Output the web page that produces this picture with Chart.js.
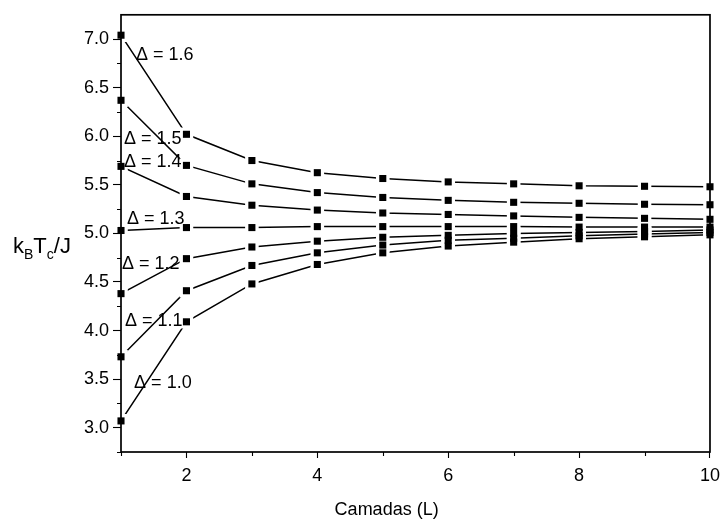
<!DOCTYPE html>
<html>
<head>
<meta charset="utf-8">
<script src="https://cdn.jsdelivr.net/npm/chart.js@4.4.1/dist/chart.umd.min.js"></script>
<style>
  html, body { margin: 0; padding: 0; background: #fff; }
  #c { display: block; }
</style>
</head>
<body>
<canvas id="c" width="727" height="525"></canvas>
<script>
// Number of layers L
const layers = [1, 2, 3, 4, 5, 6, 7, 8, 9, 10];

// Critical temperature k_B T_c / J for each anisotropy value Δ
const delta16 = [7.04, 6.02, 5.75, 5.625, 5.565, 5.53, 5.51, 5.49, 5.485, 5.48];
const delta15 = [6.37, 5.70, 5.51, 5.42, 5.37, 5.34, 5.32, 5.31, 5.30, 5.295];
const delta14 = [5.69, 5.38, 5.29, 5.24, 5.21, 5.195, 5.18, 5.165, 5.155, 5.145];
const delta13 = [5.03, 5.06, 5.06, 5.07, 5.07, 5.07, 5.07, 5.065, 5.065, 5.065];
const delta12 = [4.38, 4.74, 4.86, 4.92, 4.96, 4.98, 5.00, 5.01, 5.02, 5.035];
const delta11 = [3.73, 4.41, 4.67, 4.80, 4.88, 4.93, 4.95, 4.975, 4.995, 5.01];
const delta10 = [3.07, 4.09, 4.48, 4.68, 4.80, 4.87, 4.91, 4.945, 4.965, 4.985];

const deltaValues = ['1.6', '1.5', '1.4', '1.3', '1.2', '1.1', '1.0'];
const seriesList = [delta16, delta15, delta14, delta13, delta12, delta11, delta10];

// Axis ticks
const xMajorTicks = [2, 4, 6, 8, 10];
const xMinorTicks = [1, 3, 5, 7, 9];
const yMajorTicks = [3.0, 3.5, 4.0, 4.5, 5.0, 5.5, 6.0, 6.5, 7.0];
const yMinorTicks = [2.75, 3.25, 3.75, 4.25, 4.75, 5.25, 5.75, 6.25, 6.75];

// Where each "Δ = …" caption sits, in data units (left edge, vertical middle)
const captionX = [1.23, 1.046, 1.046, 1.09, 1.015, 1.06, 1.20];
const captionY = [6.84, 5.974, 5.732, 5.149, 4.686, 4.093, 3.459];

const FONT = '"Liberation Sans", Arial, sans-serif';

const datasets = [];
seriesList.forEach((vals, i) => {
  const pts = layers.map((x, k) => ({ x, y: vals[k] }));
  // connecting line
  datasets.push({
    data: pts, order: 3, showLine: true, borderColor: '#000', borderWidth: 1.5,
    pointRadius: 0, fill: false, tension: 0
  });
  // white gap around each marker
  datasets.push({
    data: pts, order: 2, showLine: false, pointStyle: 'rect', pointRadius: 9.6,
    pointBackgroundColor: '#fff', pointBorderWidth: 0, clip: 0
  });
  // square marker
  datasets.push({
    data: pts, order: 1, showLine: false, pointStyle: 'rect', pointRadius: 5,
    pointBackgroundColor: '#000', pointBorderWidth: 0, clip: false
  });
});

const decorations = {
  id: 'decorations',
  afterDatasetsDraw(chart) {
    const { ctx, chartArea: a, scales: { x, y } } = chart;
    ctx.save();
    // frame
    ctx.strokeStyle = '#000';
    ctx.lineWidth = 1.7;
    ctx.strokeRect(a.left, a.top, a.right - a.left, a.bottom - a.top);

    // minor ticks
    ctx.lineWidth = 1.1;
    ctx.beginPath();
    yMinorTicks.forEach(v => {
      const py = Math.round(y.getPixelForValue(v)) + 0.5;
      ctx.moveTo(a.left - 4, py); ctx.lineTo(a.left, py);
    });
    xMinorTicks.forEach(v => {
      const px = Math.round(x.getPixelForValue(v)) + 0.5;
      ctx.moveTo(px, a.bottom); ctx.lineTo(px, a.bottom + 4);
    });
    ctx.stroke();

    // Δ captions
    ctx.fillStyle = '#000';
    ctx.font = '18px ' + FONT;
    ctx.textAlign = 'left';
    ctx.textBaseline = 'middle';
    deltaValues.forEach((d, i) => {
      ctx.fillText('\u0394 = ' + d, x.getPixelForValue(captionX[i]), y.getPixelForValue(captionY[i]));
    });

    // x axis title
    ctx.textAlign = 'center';
    ctx.textBaseline = 'alphabetic';
    ctx.font = '18px ' + FONT;
    ctx.fillText('Camadas (L)', a.left + 0.451 * (a.right - a.left), 515);

    // y axis title: k_B T_c / J
    ctx.textAlign = 'left';
    let cx = 13;
    const base = a.top + 238;
    const parts = [['k', false], ['B', true], ['T', false], ['c', true], ['/J', false]];
    parts.forEach(([t, sub]) => {
      ctx.font = (sub ? '14px ' : '22px ') + FONT;
      ctx.fillText(t, cx, sub ? base + 6 : base);
      cx += ctx.measureText(t).width;
    });
    ctx.restore();
  }
};

new Chart(document.getElementById('c'), {
  type: 'scatter',
  data: { datasets },
  options: {
    responsive: false,
    animation: false,
    layout: { padding: { top: 4, right: 16, left: 0, bottom: 0 } },
    plugins: { legend: { display: false }, tooltip: { enabled: false } },
    scales: {
      x: {
        type: 'linear', min: 1, max: 10,
        afterBuildTicks: s => { s.ticks = xMajorTicks.map(v => ({ value: v })); },
        afterFit: s => { s.height = 73; },
        border: { display: false },
        grid: { drawOnChartArea: false, drawTicks: true, tickLength: 6, tickColor: '#000', tickWidth: 1.1 },
        ticks: { color: '#000', font: { family: FONT, size: 18 }, padding: 7, maxRotation: 0, autoSkip: false,
                 callback: v => String(v) }
      },
      y: {
        type: 'linear', min: 2.75, max: 7.25,
        afterBuildTicks: s => { s.ticks = yMajorTicks.map(v => ({ value: v })); },
        afterFit: s => { s.width = 121; },
        border: { display: false },
        grid: { drawOnChartArea: false, drawTicks: true, tickLength: 8, tickColor: '#000', tickWidth: 1.1 },
        ticks: { color: '#000', font: { family: FONT, size: 18 }, padding: 4, autoSkip: false,
                 callback: v => Number(v).toFixed(1) }
      }
    }
  },
  plugins: [decorations]
});
</script>
</body>
</html>
